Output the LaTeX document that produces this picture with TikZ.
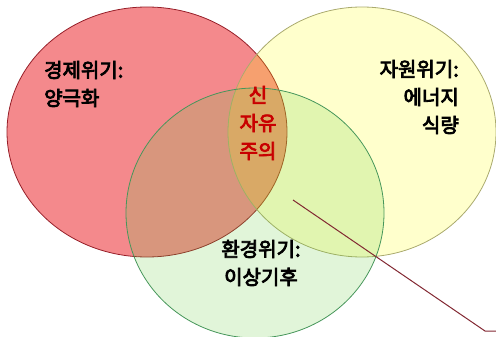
\documentclass[tikz,border=0pt]{standalone}
\usepackage{fontspec}
\newfontfamily\kr{Noto Sans CJK KR}[FakeBold=4]
\usetikzlibrary{shapes.geometric}

\definecolor{econfill}{RGB}{235,40,45}
\definecolor{econline}{RGB}{150,30,40}
\definecolor{resfill}{RGB}{255,255,0}
\definecolor{resline}{RGB}{170,170,110}
\definecolor{envfill}{RGB}{105,205,65}
\definecolor{envline}{RGB}{70,150,90}
\definecolor{pinline}{RGB}{130,40,50}
\definecolor{neored}{RGB}{200,0,0}

\begin{document}
\begin{tikzpicture}[
    x=1pt, y=-1pt,
    venn/.style={ellipse, draw, line width=0.8pt, inner sep=0pt},
    crisis/.style={font=\kr\fontsize{20}{28}\selectfont, inner sep=0pt},
    pin/.style={draw=pinline, line width=1pt},
]
    \useasboundingbox (0,0) rectangle (496,337);

    \node[venn, draw=econline, fill=econfill, fill opacity=0.55,
          minimum width=280pt, minimum height=250pt] (econ) at (147,132) {};
    \node[venn, draw=resline, fill=resfill, fill opacity=0.2,
          minimum width=268pt, minimum height=250pt] (res) at (362,132) {};
    \node[venn, draw=envline, fill=envfill, fill opacity=0.2,
          minimum width=258pt, minimum height=250pt] (env) at (255,213) {};

    \node[crisis, align=left, anchor=west] (econtext) at (44,84) {경제위기:\\양극화};
    \node[crisis, align=right, anchor=east] (restext) at (459,97) {자원위기:\\에너지\\식량};
    \node[crisis, align=center, text=neored] (neolib) at (258,123) {신\\자유\\주의};
    \node[crisis, align=center] (envtext) at (261,263) {환경위기:\\이상기후};

    \coordinate (tip) at (293,200);
    \coordinate (bend) at (485,331);
    \coordinate (edge) at (496,331);
    \draw[pin] (tip) -- (bend) -- (edge);
\end{tikzpicture}
\end{document}
